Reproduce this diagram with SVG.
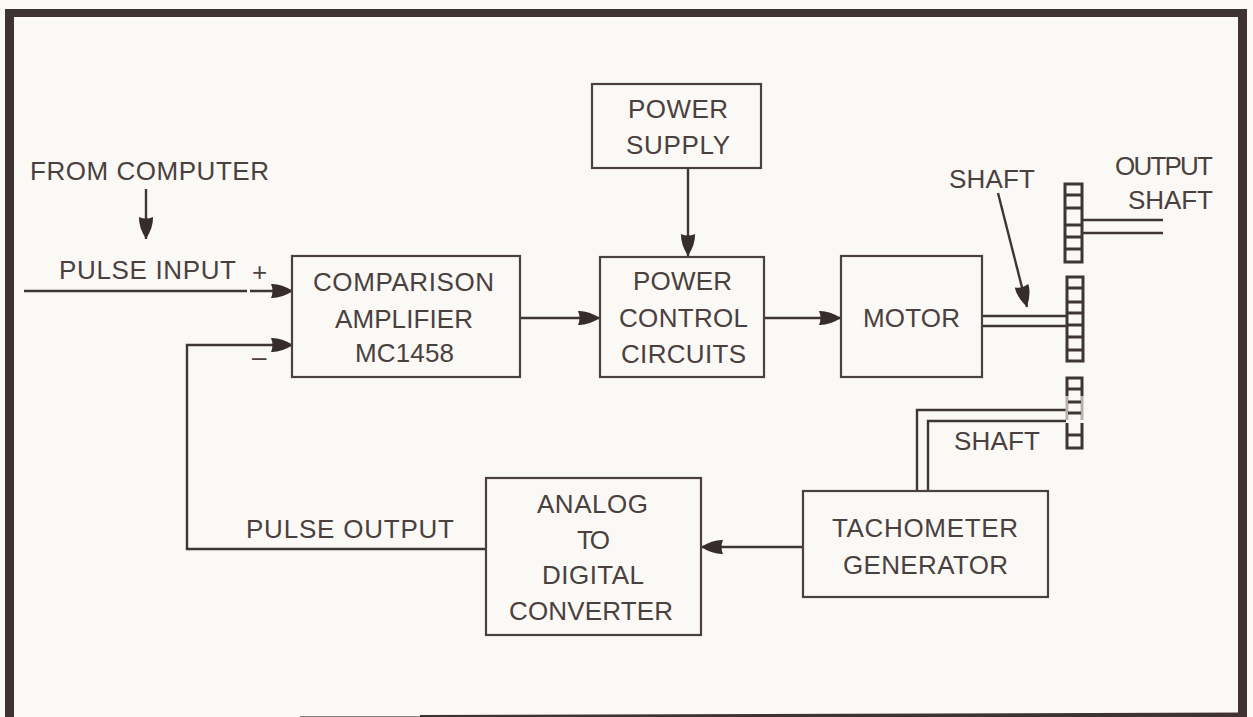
<svg xmlns="http://www.w3.org/2000/svg" width="1253" height="717" viewBox="0 0 1253 717">
<defs>
<marker id="ah" markerUnits="userSpaceOnUse" markerWidth="24" markerHeight="18" refX="22" refY="9" orient="auto"><path d="M0,2 Q10,1.500 22,9 Q10,16.500 0,16 Q3,9 0,2 Z" fill="#362c2c"/></marker>
</defs>
<style>
.b{fill:none;stroke:#4a403e;stroke-width:2.200}
.c{fill:none;stroke:#3f3534;stroke-width:2.400}
.g{fill:none;stroke:#3f3534;stroke-width:3}
text{font-family:"Liberation Sans",Arial,sans-serif;font-size:26px;fill:#4a403e;text-anchor:start}
</style>
<rect width="1253" height="717" fill="#fbf9f5"/>
<g id="frame" fill="#3f3233">
<rect x="5" y="9" width="9" height="708"/>
<rect x="5" y="9" width="1242" height="8"/>
<rect x="1238" y="9" width="9" height="708"/>
<path d="M420 715L1247 712.500V717H420Z"/>
<path d="M300 716H420V717H300Z" fill="#8a8280"/>
</g>
<g id="connectors">
<path class="c" d="M24 291H247M250 291H293" marker-end="url(#ah)"/>
<path class="c" d="M486 549H187V345H293" marker-end="url(#ah)"/>
<path class="c" d="M521 318H600" marker-end="url(#ah)"/>
<path class="c" d="M765 318H841" marker-end="url(#ah)"/>
<path class="c" d="M688 168V256" marker-end="url(#ah)"/>
<path class="c" d="M146 189V239" marker-end="url(#ah)"/>
<path class="c" d="M803 547H701" marker-end="url(#ah)"/>
<path class="c" d="M998 193L1027 307" marker-end="url(#ah)"/>
<path class="c" d="M983 316H1066M983 326H1066"/>
<path class="c" d="M1083 220H1163M1083 233H1163"/>
<path class="c" d="M917 490V410H1066M928 490V421H1066"/>
</g>
<g id="power-supply"><rect class="b" x="592" y="84" width="169" height="84"/><text x="628" y="118" textLength="100">POWER</text><text x="626" y="154" textLength="104">SUPPLY</text></g>
<g id="comparison-amplifier"><rect class="b" x="292" y="256" width="228" height="121"/><text x="313" y="291" textLength="181">COMPARISON</text><text x="335" y="328" textLength="138">AMPLIFIER</text><text x="355" y="362" textLength="99">MC1458</text></g>
<g id="power-control"><rect class="b" x="600" y="257" width="164" height="120"/><text x="633" y="290" textLength="99">POWER</text><text x="619" y="327" textLength="129">CONTROL</text><text x="621" y="363" textLength="125">CIRCUITS</text></g>
<g id="motor"><rect class="b" x="841" y="256" width="141" height="121"/><text x="863" y="327" textLength="97">MOTOR</text></g>
<g id="adc"><rect class="b" x="486" y="478" width="215" height="157"/><text x="537" y="513" textLength="111">ANALOG</text><text x="577" y="549" textLength="33">TO</text><text x="542" y="584" textLength="102">DIGITAL</text><text x="509" y="620" textLength="164">CONVERTER</text></g>
<g id="tachometer"><rect class="b" x="803" y="491" width="245" height="106"/><text x="832" y="537" textLength="186">TACHOMETER</text><text x="843" y="574" textLength="165">GENERATOR</text></g>
<g id="gears">
<path class="g" d="M1065 184H1082V262H1065ZM1065 195H1082M1065 208H1082M1065 225H1082M1065 237H1082M1065 249H1082"/>
<path class="g" d="M1067 277H1083V361H1067ZM1067 288H1083M1067 302H1083M1067 313H1083M1067 325H1083M1067 337H1083M1067 350H1083"/>
<path class="g" d="M1067 378H1082V389H1067ZM1067 378V396M1082 378V396"/>
<path d="M1067 396V420M1082 396V420" fill="none" stroke="#b9b1aa" stroke-width="3"/>
<path class="g" d="M1068 402H1081M1068 413H1081M1067 423V448H1082V423M1067 435H1082"/>
</g>
<g id="labels">
<text x="30" y="180" textLength="239">FROM COMPUTER</text>
<text x="59" y="279" textLength="177">PULSE INPUT</text>
<text x="252" y="281" textLength="16">+</text>
<text x="252" y="366" textLength="15">–</text>
<text x="246" y="538" textLength="208">PULSE OUTPUT</text>
<text x="949" y="188" textLength="86">SHAFT</text>
<text x="954" y="450" textLength="86">SHAFT</text>
<text x="1115" y="175" textLength="98">OUTPUT</text>
<text x="1128" y="209" textLength="85">SHAFT</text>
</g>
</svg>
